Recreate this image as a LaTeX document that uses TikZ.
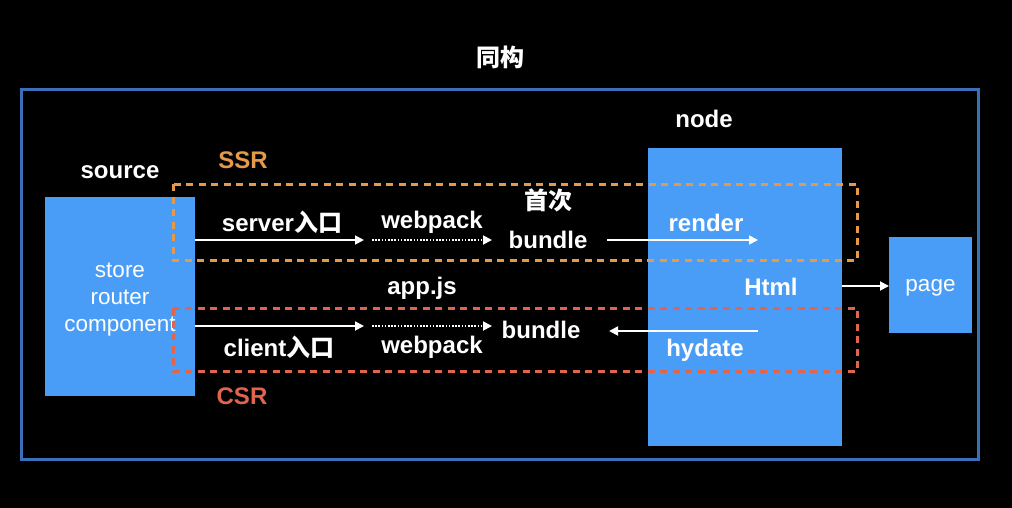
\documentclass[tikz,border=0pt]{standalone}
\usepackage{fontspec}
\setmainfont{Liberation Sans}
\newfontfamily\cjk{Noto Sans CJK SC}
\usetikzlibrary{arrows.meta}
\definecolor{boxblue}{HTML}{4A9DF7}
\definecolor{frameblue}{HTML}{3B70B8}
\definecolor{ssrorange}{HTML}{E59A4A}
\definecolor{csrred}{HTML}{E0654F}
\tikzset{
  bluebox/.style={fill=boxblue, draw=none, inner sep=0pt, outer sep=0pt},
  lbl/.style={text=white, font=\fontsize{24}{28}\selectfont\bfseries, inner sep=0pt},
  boxtxt/.style={text=white, font=\fontsize{22.5}{27}\selectfont, inner sep=0pt, align=center},
  arr/.style={draw=white, line width=1.8pt, -{Triangle[length=9pt,width=9pt]}},
  dotarr/.style={draw=white, line width=1.8pt, dash pattern=on 1.6pt off 1.6pt, -{Triangle[length=9pt,width=9pt]}},
  ssrbox/.style={draw=ssrorange, line width=3pt, dash pattern=on 7pt off 5.5pt},
  csrbox/.style={draw=csrred, line width=3pt, dash pattern=on 7pt off 5.5pt},
}
\begin{document}
\begin{tikzpicture}[x=1pt,y=-1pt]
\fill[black] (0,0) rectangle (1012,508);
\useasboundingbox (0,0) rectangle (1012,508);
% outer frame
\draw[frameblue, line width=3pt] (21,90) rectangle (978,459);
\node[lbl] (title) at (500,57) {\cjk 同构};
% boxes
\node[bluebox, minimum width=150pt, minimum height=199pt] (src) at (120,296.5) {};
\node[boxtxt] (srct) at (120,300) {store\\router\\component};
\node[bluebox, minimum width=194pt, minimum height=298pt] (nb) at (745,297) {};
\node[bluebox, minimum width=83pt, minimum height=96pt] (pg) at (930.5,285) {};
\node[boxtxt] (pgt) at (930.5,288) {page};
% labels
\node[lbl] (srcl) at (120,172) {source};
\node[lbl] (nodel) at (704,119) {node};
\node[lbl, text=ssrorange] (ssr) at (243,160) {SSR};
\node[lbl, text=csrred] (csr) at (242,396) {CSR};
% dashed groups
\draw[ssrbox] (173,184) rectangle (857,260);
\draw[csrbox] (173,308) rectangle (857,371);
% SSR row
\node[lbl] (svl) at (282,222) {server{\cjk 入口}};
\node[lbl] (wp1) at (432,222) {webpack};
\node[lbl] (shouci) at (548,200) {\cjk 首次};
\node[lbl] (b1) at (548,240) {bundle};
\node[lbl] (render) at (706,223) {render};
\coordinate (s1) at (364,240);
\coordinate (s2) at (372,240);
\coordinate (s3) at (492,240);
\coordinate (r0) at (607,240);
\coordinate (r1) at (758,240);
\draw[arr] (src.east |- s1) -- (s1);
\draw[dotarr] (s2) -- (s3);
\draw[arr] (r0) -- (r1);
% middle
\node[lbl] (appjs) at (422,288) {app.js};
\node[lbl] (html) at (771,287) {Html};
\draw[arr] (nb.east |- 0,286) -- (pg.west |- 0,286);
% CSR row
\node[lbl] (cll) at (279,347) {client{\cjk 入口}};
\node[lbl] (wp2) at (432,347) {webpack};
\node[lbl] (b2) at (541,330) {bundle};
\node[lbl] (hyd) at (705,350) {hydate};
\coordinate (c1) at (364,326);
\coordinate (c2) at (372,326);
\coordinate (c3) at (492,326);
\coordinate (h0) at (609,331);
\coordinate (h1) at (758,331);
\draw[arr] (src.east |- c1) -- (c1);
\draw[dotarr] (c2) -- (c3);
\draw[arr] (h1) -- (h0);
\end{tikzpicture}
\end{document}
